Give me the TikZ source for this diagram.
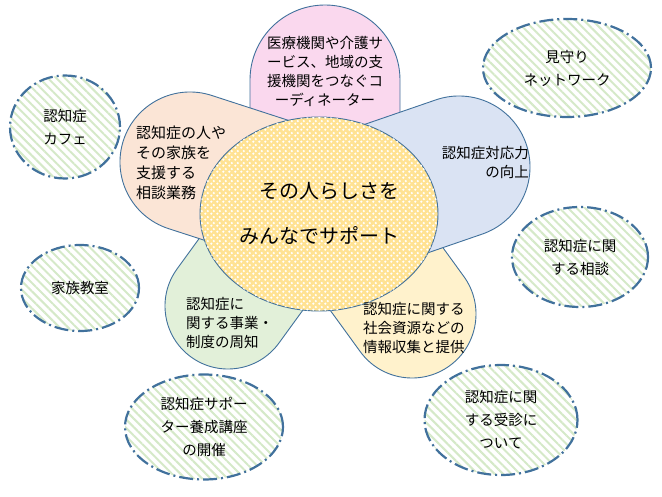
\documentclass[tikz,border=0pt]{standalone}
\usepackage{fontspec}
\setmainfont{Noto Sans CJK JP}
\usepackage{tikz}
\usetikzlibrary{shapes.geometric,patterns.meta}

\definecolor{edgeblue}{HTML}{41719C}
\definecolor{cpink}{HTML}{FAD8EE}
\definecolor{cblue}{HTML}{DAE3F3}
\definecolor{corange}{HTML}{FBE5D6}
\definecolor{cgreen}{HTML}{E2F0D9}
\definecolor{cyellow}{HTML}{FFF2CC}
\definecolor{cgold}{HTML}{FFE293}
\definecolor{stripe}{HTML}{D5E9C8}

\tikzdeclarepattern{
  name=ckdots,
  type=uncolored,
  bottom left={(0pt,0pt)},
  top right={(6pt,6pt)},
  tile size={(6pt,6pt)},
  code={
    \pgfpathcircle{\pgfpoint{1.5pt}{1.5pt}}{1.45pt}
    \pgfpathcircle{\pgfpoint{4.5pt}{4.5pt}}{1.45pt}
    \pgfusepath{fill}
  }
}

% petal: fill, x, y, angle, radius
\newcommand{\petal}[5]{%
  \begin{scope}[shift={(#2,#3)},rotate=#4]
    \draw[pl,fill=#1] (-140,-#5) -- (0,-#5) arc[start angle=-90,end angle=90,radius=#5] -- (-140,#5) -- cycle;
  \end{scope}}

\begin{document}
\begin{tikzpicture}[x=1pt,y=-1pt,
  pl/.style={draw=edgeblue,line width=0.9pt},
  tx/.style={font=\fontsize{14.5}{19}\selectfont,inner sep=0pt},
  ov/.style={ellipse,draw=edgeblue,line width=2.2pt,dash pattern=on 14pt off 4pt on 2pt off 4pt,
    preaction={fill=white},pattern={Lines[angle=-45,distance=6pt,line width=2pt]},pattern color=stripe,
    inner sep=0pt,align=center,font=\fontsize{14.5}{23}\selectfont}]
\useasboundingbox (0,0) rectangle (662,497);

\petal{cpink}{325}{80}{90}{75}
\petal{cyellow}{412}{314}{-54}{64}
\petal{cgreen}{228}{306}{-126}{63}
\petal{corange}{190}{162}{162}{70}
\petal{cblue}{459}{167}{19}{71}

\node[ellipse,pl,fill=cgold,postaction={pattern=ckdots,pattern color=white},
  minimum width=238pt,minimum height=194pt,inner sep=0pt,align=left,
  font=\fontsize{20}{45}\selectfont] (c) at (319,214) {\hspace*{1em}その人らしさを\\みんなでサポート};

\node[tx,align=center] (tp) at (325,71) {医療機関や介護サ\\ービス、地域の支\\援機関をつなぐコ\\ーディネーター};
\node[tx,align=left,anchor=west,font=\fontsize{15}{20}\selectfont] (tl) at (136,163) {認知症の人や\\その家族を\\支援する\\相談業務};
\node[tx,align=right,anchor=east] (tr) at (529,162) {認知症対応力\\の向上};
\node[tx,align=left,anchor=west] (bl) at (186,323) {認知症に\\関する事業・\\制度の周知};
\node[tx,align=left,anchor=west] (br) at (363,328) {認知症に関する\\社会資源などの\\情報収集と提供};

\node[ov,minimum width=110pt,minimum height=103pt] (cf) at (65,127) {認知症\\カフェ};
\node[ov,minimum width=168pt,minimum height=98pt] (mm) at (567,68) {見守り\\ネットワーク};
\node[ov,minimum width=118pt,minimum height=86pt] (kz) at (80,288) {家族教室};
\node[ov,minimum width=136pt,minimum height=100pt] (sd) at (580,257) {認知症に関\\する相談};
\node[ov,minimum width=158pt,minimum height=105pt] (sp) at (204,427) {認知症サポー\\ター養成講座\\の開催};
\node[ov,minimum width=153pt,minimum height=110pt] (js) at (501,420) {認知症に関\\する受診に\\ついて};
\end{tikzpicture}
\end{document}
